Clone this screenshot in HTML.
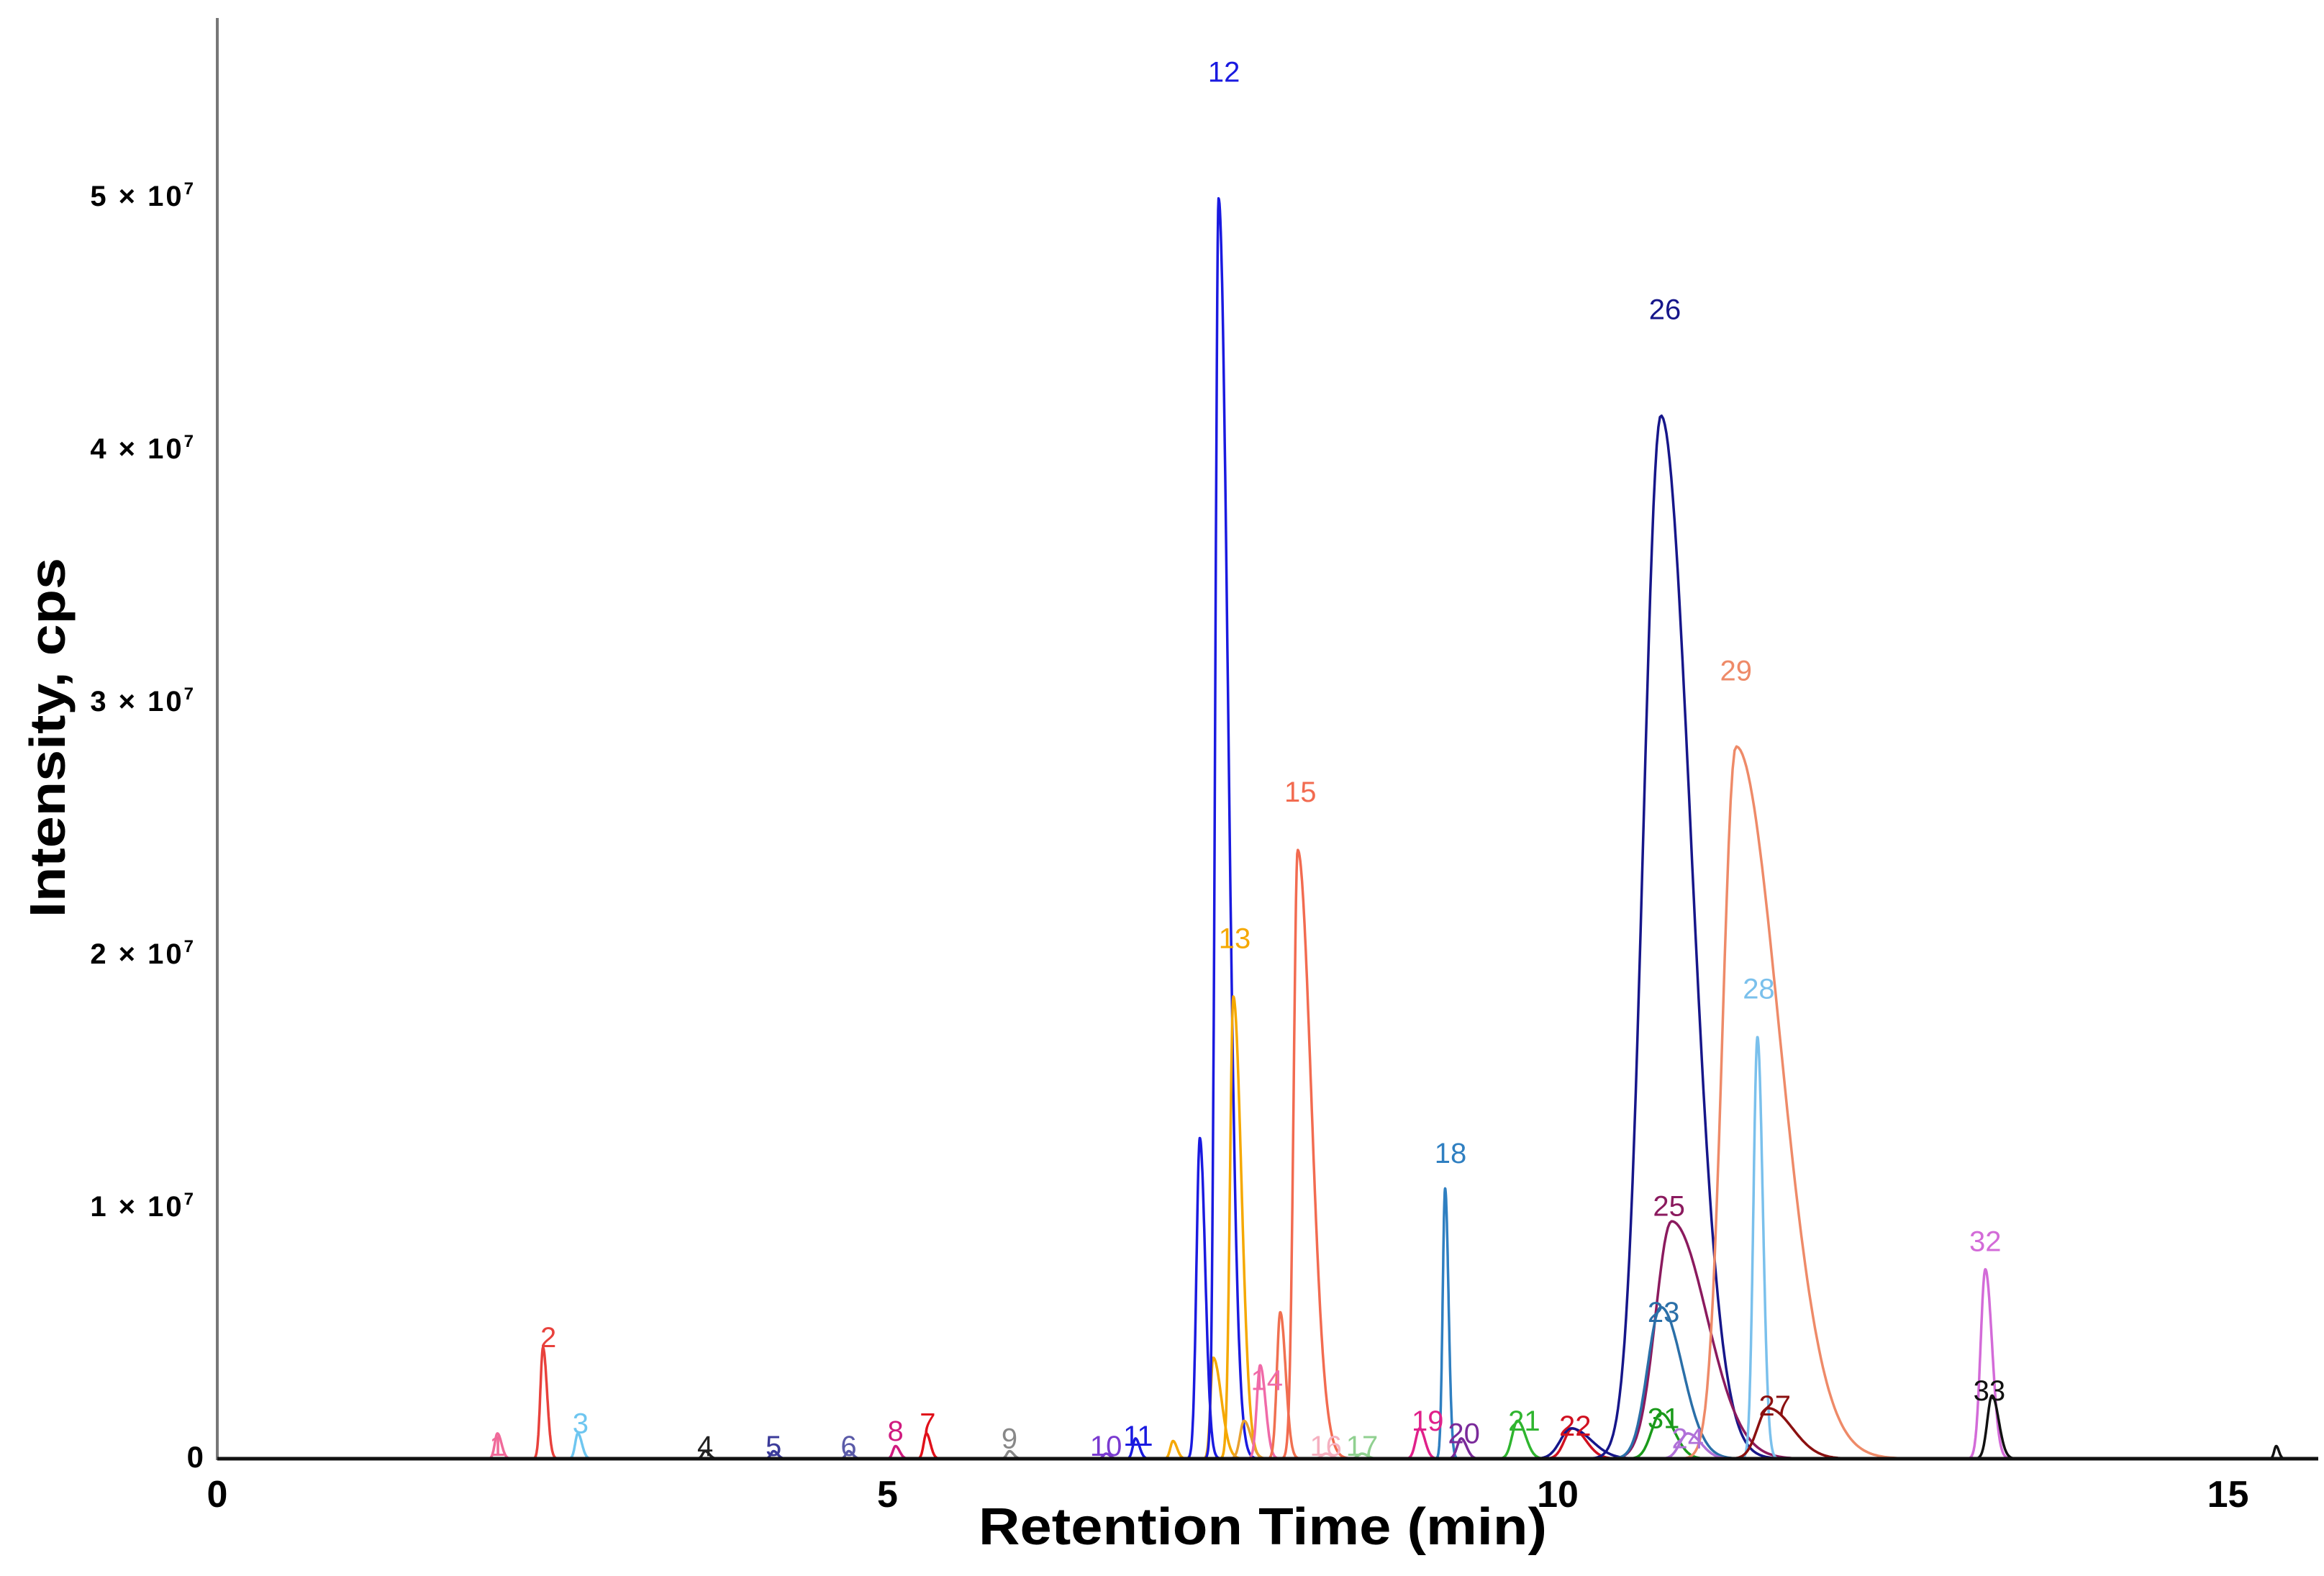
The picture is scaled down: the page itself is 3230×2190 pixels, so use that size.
<!DOCTYPE html>
<html><head><meta charset="utf-8">
<style>
html,body{margin:0;padding:0;background:#fff;}
svg{display:block;font-family:"Liberation Sans",Arial,sans-serif;}
</style></head>
<body>
<svg id="chart" width="3230" height="2190" viewBox="0 0 3230 2190" xmlns="http://www.w3.org/2000/svg">
  <rect width="3230" height="2190" fill="#fff"/>
  <g id="yticks"></g>
  <g id="xticks"></g>
  <g id="traces"></g>
  <g id="labels"></g>
  <line x1="302" y1="25" x2="302" y2="2029" stroke="#777" stroke-width="4"/>
  <line x1="302" y1="2027" x2="3222" y2="2027" stroke="#111" stroke-width="5"/>
  <text x="1755" y="2146" font-size="72" font-weight="bold" text-anchor="middle" textLength="790" lengthAdjust="spacingAndGlyphs">Retention Time (min)</text>
  <text transform="translate(90,1025) rotate(-90)" font-size="70" font-weight="bold" text-anchor="middle" textLength="500" lengthAdjust="spacingAndGlyphs">Intensity, cps</text>
</svg>
<script>
// ---- data ----
const peakNames = ["1","2","3","4","5","6","8","7","9","10","11","o1","12a","o2","12","13","o3","14","15a","15","16","17","19","18","20","21","22","22b","26","25","23","31","24","29","28","27","32","33","e1"];
const peakRT =    [2.09,2.43,2.69,3.64,4.15,4.71,5.06,5.29,5.91,6.63,6.85,7.13,7.33,7.43,7.47,7.58,7.66,7.78,7.93,8.06,8.27,8.54,8.97,9.16,9.28,9.70,10.11,10.10,10.77,10.85,10.77,10.77,10.97,11.33,11.49,11.57,13.19,13.24,15.36];
const peakHeight = [0.10,0.44,0.10,0.03,0.03,0.03,0.05,0.10,0.03,0.02,0.08,0.07,1.27,0.40,4.99,1.83,0.15,0.37,0.58,2.41,0.02,0.02,0.12,1.07,0.08,0.15,0.12,0.12,4.13,0.94,0.60,0.18,0.10,2.82,1.67,0.20,0.75,0.25,0.05];
const peakSigmaL = [0.02,0.02,0.02,0.02,0.02,0.02,0.02,0.02,0.02,0.02,0.02,0.02,0.025,0.02,0.025,0.025,0.03,0.025,0.025,0.03,0.03,0.03,0.03,0.018,0.03,0.04,0.06,0.08,0.13,0.12,0.10,0.07,0.06,0.10,0.03,0.08,0.035,0.035,0.015];
const peakSigmaR = [0.03,0.03,0.03,0.03,0.03,0.03,0.03,0.03,0.03,0.03,0.03,0.03,0.04,0.06,0.07,0.06,0.05,0.04,0.04,0.10,0.04,0.04,0.04,0.025,0.04,0.06,0.10,0.15,0.22,0.26,0.16,0.10,0.10,0.32,0.04,0.18,0.05,0.05,0.02];
const peakColor = ["#f06a9a","#e8413c","#6ec6f0","#222","#3b3b9a","#5a5aa8","#d01a7f","#e0101a","#888","#7a3ad0","#1a1ae0","#f5a800","#1a1ae0","#f5a800","#1a1ae0","#f5a800","#e8a030","#f06aa8","#f07050","#f26b50","#f5b0c0","#90d090","#e0208a","#2f7fc1","#7a2a9a","#2fb52f","#d01020","#16168a","#16168a","#8b1a5e","#2a6fa8","#1a9a1a","#b070d8","#ee8a68","#7ac0ec","#8b1010","#d36bd8","#111","#111"];
const labelText = ["1","2","3","4","5","6","8","7","9","10","11","12","13","14","15","16","17","19","18","20","21","22","26","25","23","31","24","29","28","27","32","33"];
const labelRT =   [2.09,2.47,2.71,3.64,4.15,4.71,5.06,5.30,5.91,6.63,6.87,7.51,7.59,7.83,8.08,8.27,8.54,9.03,9.20,9.30,9.75,10.13,10.80,10.83,10.79,10.79,10.97,11.33,11.50,11.62,13.19,13.22];
const labelVal =  [0.0,0.43,0.09,0.0,0.0,0.0,0.06,0.09,0.03,0.0,0.04,5.44,2.01,0.26,2.59,0.0,0.0,0.10,1.16,0.05,0.10,0.08,4.50,0.95,0.53,0.11,0.03,3.07,1.81,0.16,0.81,0.22];
const labelColor = ["#f06a9a","#e8413c","#6ec6f0","#222","#3b3b9a","#5a5aa8","#d01a7f","#e0101a","#888","#7a3ad0","#1a1ae0","#1a1ae0","#f5a800","#f06aa8","#f26b50","#f5b0c0","#90d090","#e0208a","#2f7fc1","#7a2a9a","#2fb52f","#d01020","#16168a","#8b1a5e","#2a6fa8","#1a9a1a","#b070d8","#ee8a68","#7ac0ec","#8b1010","#d36bd8","#111"];
const xTicks = [0,5,10,15];
const xTickLabels = ["0","5","10","15"];
const yTicks = [1,2,3,4,5];
const yTickLabels = ["1 × 10","2 × 10","3 × 10","4 × 10","5 × 10"];

// ---- scales ----
const X0 = 302, PXMIN = 186.3, Y0 = 2027, PXUNIT = 351;
function xs(t){ return X0 + t*PXMIN; }
function ys(v){ return Y0 - v*PXUNIT; }
const NS = "http://www.w3.org/2000/svg";
function mk(tag, attrs, parent){ const e=document.createElementNS(NS,tag); for(const k in attrs) e.setAttribute(k,attrs[k]); parent.appendChild(e); return e; }

// y ticks
const yg = document.getElementById('yticks');
yTicks.forEach((v,i)=>{
  const t = mk('text',{x:272,y:ys(v)+14,'font-size':40,'font-weight':'bold','text-anchor':'end','letter-spacing':'3'},yg);
  
  
  t.textContent = yTickLabels[i];
  const s = mk('tspan',{dy:-16,'font-size':24},t);
  s.textContent='7';
});
const y0 = mk('text',{x:283,y:Y0+12,'font-size':42,'font-weight':'bold','text-anchor':'end'},yg);


y0.textContent='0';

// x ticks
const xg = document.getElementById('xticks');
xTicks.forEach((v,i)=>{
  const t = mk('text',{x:xs(v),y:2094,'font-size':52,'font-weight':'bold','text-anchor':'middle'},xg);
  
  
  t.textContent = xTickLabels[i];
});

// traces
const tg = document.getElementById('traces');
peakRT.forEach((rt,i)=>{
  const sL = peakSigmaL[i], sR = peakSigmaR[i], h = peakHeight[i];
  const t0 = rt - 4.5*sL, t1 = rt + 5*sR;
  let d = '';
  const n = 140;
  for(let k=0;k<=n;k++){
    const t = t0 + (t1-t0)*k/n;
    const s = t<rt ? sL : sR;
    const v = h*Math.exp(-0.5*((t-rt)/s)**2);
    d += (k?'L':'M') + xs(t).toFixed(1) + ',' + ys(v).toFixed(1);
  }
  const p = mk('path',{d:d,fill:'none',stroke:peakColor[i],'stroke-width':3.5,'stroke-linejoin':'round'},tg);
  
  
});

// labels
const lg = document.getElementById('labels');
labelText.forEach((s,i)=>{
  const t = mk('text',{x:xs(labelRT[i]),y:ys(labelVal[i])-4,'font-size':40,'text-anchor':'middle',fill:labelColor[i]},lg);
  
  
  t.textContent = s;
});
</script>
</body></html>
